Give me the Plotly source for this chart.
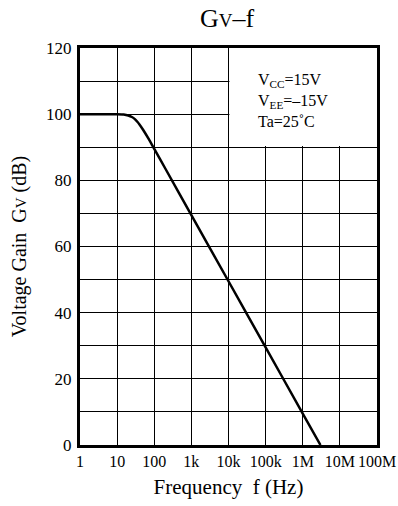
import plotly.graph_objects as go

# Data
freq_hz = [1, 10, 15, 20, 25, 30, 35, 40, 50, 70, 100, 200, 1e3, 1e4, 1e5, 1e6, 3e6]
gain_db = [100, 99.98, 99.9, 99.6, 99.15, 98.5, 97.7, 96.9, 95.3, 92.6, 89.5, 83.5,
           69.5, 49.5, 29.5, 9.5, 0]

x_tickvals = [1, 10, 100, 1e3, 1e4, 1e5, 1e6, 1e7, 1e8]
x_ticktext = ["1", "10", "100", "1k", "10k", "100k", "1M", "10M", "100M"]
y_tickvals = [0, 20, 40, 60, 80, 100, 120]
y_ticktext = ["0", "20", "40", "60", "80", "100", "120"]

FONT = "Liberation Serif, Times New Roman, serif"

fig = go.Figure()
fig.add_trace(go.Scatter(x=freq_hz, y=gain_db, mode="lines",
                         line=dict(color="black", width=2.5, shape="spline", smoothing=0.6),
                         showlegend=False))

fig.update_layout(
    width=398, height=506,
    margin=dict(l=80, r=21, t=48, b=61, autoexpand=False),
    paper_bgcolor="white", plot_bgcolor="white",
    font=dict(family=FONT, color="black", size=17),
    title=dict(text="G<span style='font-size:19px'>V</span>–f", x=227 / 398, xanchor="center",
               y=1 - 18 / 506, yanchor="middle", yref="container",
               font=dict(size=26, family=FONT, color="black")),
)
fig.update_xaxes(type="log", range=[0, 8], tickvals=x_tickvals, ticktext=x_ticktext,
                 showgrid=True, gridcolor="black", gridwidth=1,
                 showline=True, linecolor="black", linewidth=3, mirror=True,
                 ticks="", zeroline=False, tickfont=dict(size=16), tickangle=0,
                 automargin=False,
                 title=dict(text="Frequency\u00a0\u00a0f (Hz)", font=dict(size=21), standoff=11))
fig.update_yaxes(range=[0, 120], tickvals=y_tickvals, ticktext=y_ticktext,
                 showgrid=True, gridcolor="black", gridwidth=1,
                 minor=dict(tick0=0, dtick=10, showgrid=True, gridcolor="black", gridwidth=1, ticks=""),
                 showline=True, linecolor="black", linewidth=3, mirror=True,
                 ticks="", zeroline=False, tickfont=dict(size=17), ticklabelstandoff=2,
                 automargin=False,
                 title=dict(text="Voltage Gain\u00a0\u00a0G<span style='font-size:15px'>V</span> (dB)",
                            font=dict(size=20), standoff=15))

# white box behind the condition text
fig.add_shape(type="rect", xref="x", yref="y", x0=1.06e4, x1=1e8, y0=90.4, y1=120,
              fillcolor="white", line=dict(width=0), layer="between")

fig.add_annotation(xref="paper", yref="paper", x=(256 - 80) / 297, y=(445 - 100) / 397,
                   xanchor="left", yanchor="middle", align="left", showarrow=False,
                   text="V<sub style='font-size:11px'>CC</sub>=15V<br>"
                        "V<sub style='font-size:11px'>EE</sub>=–15V<br>Ta=25˚C",
                   font=dict(size=16, family=FONT, color="black"))

fig.write_html("out.html")
